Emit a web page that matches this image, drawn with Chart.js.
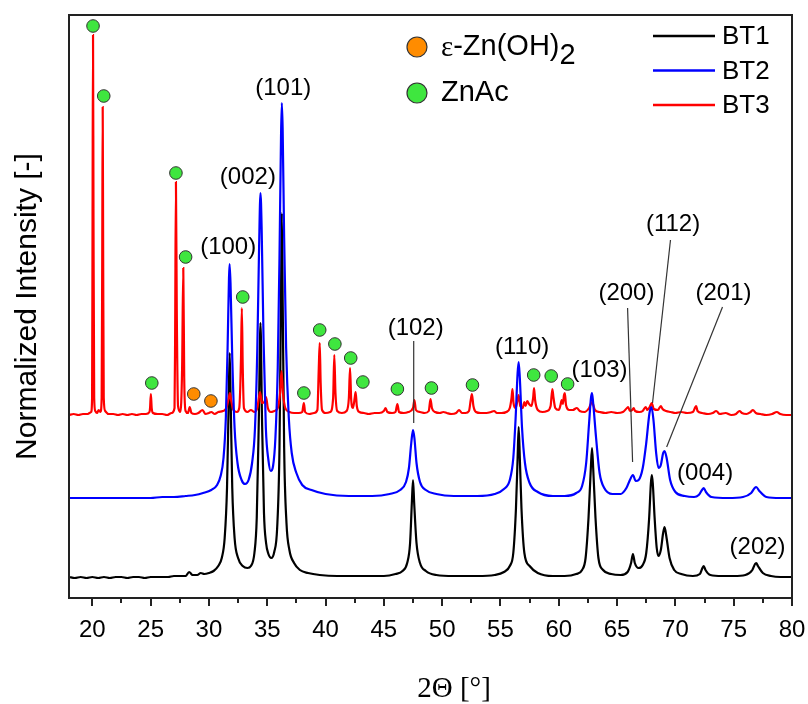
<!DOCTYPE html>
<html>
<head>
<meta charset="utf-8">
<script src="https://cdn.jsdelivr.net/npm/chart.js@4.4.1/dist/chart.umd.min.js"></script>
<style>
  html, body { margin: 0; padding: 0; background: #ffffff; }
  #wrap { width: 808px; height: 704px; }
</style>
</head>
<body>
<div id="wrap"><canvas id="xrd" width="808" height="704"></canvas></div>
<script>
// XRD patterns, 2θ [°] vs. normalized intensity (stacked, arbitrary units)
const bt1 = [
  [18.0,21],[18.5,20],[19.0,21],[19.5,20],[20.0,21],[20.5,20],[21.0,21],[21.5,20],[22.0,21],[22.5,21],
  [23.0,20],[23.5,21],[24.0,21],[24.5,20],[25.0,21],[25.5,21],[26.0,21],[26.5,21],[27.0,22],[27.5,22],
  [28.0,22],[28.3,26],[28.6,23],[29.0,23],[29.3,25],[29.6,24],[30.0,25],[30.4,27],[30.8,32],[31.1,40],
  [31.35,60],[31.55,110],[31.7,200],[31.78,245],[31.86,200],[32.0,110],[32.2,60],[32.5,40],[32.9,32],[33.3,30],
  [33.6,32],[33.9,45],[34.1,80],[34.28,180],[34.42,275],[34.55,180],[34.72,85],[34.9,55],[35.1,44],[35.35,40],
  [35.6,46],[35.85,70],[36.05,150],[36.17,290],[36.25,385],[36.33,290],[36.45,150],[36.65,75],[36.9,48],[37.3,35],
  [37.8,28],[38.5,25],[39.5,23],[41.0,22],[42.5,22],[44.0,22],[45.0,22],[46.0,24],[46.6,27],[47.0,35],
  [47.25,55],[47.4,95],[47.5,118],[47.6,95],[47.8,55],[48.1,35],[48.6,27],[49.5,23],[51.0,22],[53.0,22],
  [54.5,23],[55.3,26],[55.8,32],[56.1,45],[56.33,90],[56.47,140],[56.56,171],[56.66,140],[56.8,90],[57.05,45],
  [57.5,32],[58.2,25],[59.5,22],[60.5,22],[61.5,24],[62.0,28],[62.3,40],[62.55,80],[62.75,130],[62.85,150],
  [62.95,130],[63.15,80],[63.4,40],[63.8,28],[64.5,24],[65.3,23],[65.9,26],[66.2,35],[66.36,44],[66.52,35],
  [66.85,30],[67.2,33],[67.5,45],[67.75,80],[67.9,115],[67.98,123],[68.06,115],[68.22,80],[68.4,50],[68.55,42],
  [68.75,48],[68.95,65],[69.07,71],[69.22,62],[69.5,40],[69.9,28],[70.5,24],[71.5,22],[72.1,24],[72.32,30],
  [72.43,32],[72.58,28],[73.0,23],[74.0,22],[75.0,22],[76.0,23],[76.6,28],[76.83,34],[76.93,35],[77.08,32],
  [77.5,25],[78.2,22],[79.0,21],[80.0,21]
];
const bt2 = [
  [18.0,100],[19.0,100],[20.0,100],[21.0,100],[22.0,100],[23.0,100],[24.0,100],[25.0,100],[26.0,101],[27.0,101],
  [28.0,102],[28.8,103],[29.5,105],[30.2,108],[30.7,113],[31.0,122],[31.25,140],[31.45,180],[31.6,250],[31.72,320],
  [31.77,334],[31.85,315],[32.0,240],[32.2,170],[32.45,135],[32.8,118],[33.1,114],[33.4,118],[33.7,135],[33.95,170],
  [34.15,250],[34.3,350],[34.42,405],[34.52,370],[34.68,260],[34.88,170],[35.1,138],[35.3,127],[35.5,132],[35.7,160],
  [35.9,230],[36.05,340],[36.18,460],[36.25,495],[36.32,470],[36.45,360],[36.62,250],[36.85,180],[37.1,145],[37.5,125],
  [38.0,113],[38.8,108],[40.0,104],[42.0,102],[44.0,102],[45.5,104],[46.4,108],[46.9,116],[47.15,130],[47.35,155],
  [47.5,168],[47.62,160],[47.8,135],[48.1,116],[48.6,108],[49.5,104],[51.0,102],[53.0,102],[54.5,104],[55.3,109],
  [55.8,118],[56.1,140],[56.3,180],[56.47,225],[56.56,236],[56.66,220],[56.85,170],[57.1,135],[57.5,115],[58.2,106],
  [59.5,102],[60.5,102],[61.5,105],[62.0,112],[62.35,135],[62.6,175],[62.76,200],[62.85,205],[62.95,195],[63.2,160],
  [63.5,125],[63.9,110],[64.6,104],[65.3,104],[65.8,110],[66.1,118],[66.36,123],[66.6,117],[66.85,118],[67.2,130],
  [67.5,155],[67.78,185],[67.95,191],[68.12,178],[68.35,145],[68.55,130],[68.75,133],[68.95,145],[69.07,147],[69.25,140],
  [69.55,118],[70.0,106],[70.8,102],[71.6,101],[72.0,103],[72.28,108],[72.43,110],[72.62,106],[73.1,101],[74.5,100],
  [75.8,101],[76.5,105],[76.8,110],[76.93,111],[77.2,107],[77.8,101],[79.0,100],[80.0,100]
];
const bt3 = [
  [18.0,183],[18.4,184],[18.8,183],[19.2,184],[19.6,184],[19.9,186],[19.98,200],[20.02,380],[20.06,563],[20.1,380],
  [20.16,200],[20.25,187],[20.4,185],[20.55,188],[20.7,186],[20.8,200],[20.85,340],[20.89,491],[20.93,340],[20.98,200],
  [21.1,187],[21.4,184],[21.8,184],[22.2,183],[22.6,184],[23.0,183],[23.4,184],[23.8,183],[24.2,184],[24.6,184],
  [24.9,186],[24.95,190],[25.02,204],[25.09,190],[25.2,185],[25.6,184],[26.0,184],[26.4,183],[26.8,185],[27.05,190],
  [27.1,260],[27.17,416],[27.24,290],[27.35,192],[27.55,186],[27.7,230],[27.8,330],[27.88,220],[28.0,187],[28.2,185],
  [28.35,191],[28.5,185],[28.8,184],[29.1,185],[29.45,188],[29.7,184],[30.0,185],[30.2,186],[30.5,184],[30.8,186],
  [31.2,187],[31.5,190],[31.7,200],[31.8,205],[31.9,198],[32.1,188],[32.4,186],[32.6,190],[32.75,240],[32.82,290],
  [32.9,230],[33.0,190],[33.3,186],[33.6,188],[33.9,186],[34.15,190],[34.38,206],[34.55,195],[34.75,196],[34.9,201],
  [35.05,190],[35.3,186],[35.6,187],[35.9,190],[36.1,205],[36.22,227],[36.35,205],[36.55,190],[36.9,186],[37.3,185],
  [37.7,185],[38.0,186],[38.14,195],[38.25,186],[38.6,184],[39.0,185],[39.3,188],[39.42,230],[39.5,255],[39.58,215],
  [39.7,188],[40.0,185],[40.4,186],[40.65,200],[40.75,243],[40.85,205],[41.0,187],[41.4,185],[41.8,187],[42.0,200],
  [42.1,230],[42.2,198],[42.35,190],[42.5,200],[42.58,206],[42.68,192],[42.9,186],[43.3,185],[43.7,184],[44.2,185],
  [44.6,185],[45.0,187],[45.15,190],[45.3,186],[45.7,185],[46.0,186],[46.16,194],[46.3,186],[46.7,185],[47.1,186],
  [47.5,190],[47.62,198],[47.75,188],[48.1,186],[48.5,185],[48.85,187],[49.0,199],[49.12,190],[49.4,186],[49.8,185],
  [50.1,186],[50.4,185],[50.8,184],[51.2,185],[51.45,188],[51.7,185],[52.0,185],[52.3,187],[52.45,198],[52.55,204],
  [52.68,192],[52.9,186],[53.3,185],[53.8,185],[54.2,186],[54.45,187],[54.7,185],[55.1,185],[55.5,186],[55.8,190],
  [55.95,200],[56.03,209],[56.12,195],[56.3,190],[56.45,197],[56.56,203],[56.7,192],[56.9,190],[57.05,196],[57.15,192],
  [57.3,197],[57.45,194],[57.65,192],[57.8,200],[57.88,210],[57.97,198],[58.2,188],[58.6,186],[59.0,187],[59.3,192],
  [59.45,209],[59.55,200],[59.7,190],[60.0,188],[60.15,193],[60.25,198],[60.35,194],[60.45,203],[60.52,205],[60.62,193],
  [60.9,188],[61.2,188],[61.55,190],[61.8,187],[62.2,186],[62.6,190],[62.85,196],[63.1,188],[63.5,186],[64.0,185],
  [64.5,186],[65.0,185],[65.5,186],[65.85,190],[65.95,191],[66.1,187],[66.3,188],[66.42,190],[66.55,187],[66.9,186],
  [67.2,187],[67.45,191],[67.6,188],[67.8,191],[67.97,195],[68.15,189],[68.5,188],[68.75,192],[68.9,189],[69.2,187],
  [69.6,186],[70.0,185],[70.5,186],[71.0,185],[71.5,186],[71.78,192],[71.9,187],[72.3,185],[72.8,184],[73.2,185],
  [73.5,187],[73.8,184],[74.3,185],[74.8,183],[75.2,184],[75.5,187],[75.7,185],[76.1,184],[76.45,186],[76.65,188],
  [76.9,185],[77.3,184],[77.8,183],[78.3,184],[78.7,186],[79.0,184],[79.5,183],[80.0,183]
];

// Phase markers above the BT3 reflections
const znAcAngles = [20.06, 20.98, 25.1, 27.17, 28.0, 32.9, 38.14, 39.5, 40.8, 42.16, 43.2, 46.16, 49.08, 52.6, 57.85, 59.35, 60.76];
const znAcLevels = [572, 502, 215, 425, 341, 301, 205, 268, 254, 240, 216, 209, 210, 213, 223, 222, 214];
const znOHAngles = [28.7, 30.17];
const znOHLevels = [204, 197];

// Miller indices of the ZnO reflections
const hklText   = ['(100)', '(002)', '(101)', '(102)', '(110)', '(103)', '(200)', '(112)', '(201)', '(004)', '(202)'];
const hklAngle  = [31.65, 33.34, 36.37, 47.73, 56.86, 63.5, 65.8, 69.8, 74.13, 72.55, 77.05];
const hklLevel  = [351, 421, 510, 270, 251, 228, 305, 374, 305, 125, 51];
// leader lines: [from angle, from level, to angle, to level]
const hklLeaders = [
  [47.56, 257, 47.56, 175],
  [65.9, 290, 66.33, 136],
  [69.58, 358, 68.04, 195],
  [74.04, 291, 69.25, 151]
];

const seriesNames  = ['BT1', 'BT2', 'BT3'];
const seriesColors = ['#000000', '#0000ff', '#ff0000'];
const xTickValues  = [20, 25, 30, 35, 40, 45, 50, 55, 60, 65, 70, 75, 80];

const SANS = '"Liberation Sans", Arial, Helvetica, sans-serif';
const SERIF = '"Liberation Serif", "Times New Roman", serif';
Chart.defaults.font.family = SANS;
Chart.defaults.color = '#000';

const toPoints = arr => arr.map(p => ({ x: p[0], y: p[1] }));
const zip = (xs, ys) => xs.map((x, i) => ({ x: x, y: ys[i] }));

const GREEN = '#3fe63f';
const ORANGE = '#ff8c00';

const decorations = {
  id: 'decorations',
  afterDraw(chart) {
    const { ctx, chartArea: a, scales } = chart;
    const xs = scales.x, ys = scales.y;
    ctx.save();

    // frame
    ctx.strokeStyle = '#222';
    ctx.lineWidth = 2;
    ctx.strokeRect(a.left, a.top, a.right - a.left, a.bottom - a.top);

    // x ticks (major every 5, minor every 2.5)
    ctx.lineWidth = 2;
    for (let v = 20; v <= 80.01; v += 2.5) {
      const px = Math.round(xs.getPixelForValue(v));
      const major = Math.abs(v % 5) < 1e-6;
      ctx.beginPath();
      ctx.moveTo(px, a.bottom);
      ctx.lineTo(px, a.bottom + (major ? 8 : 5));
      ctx.stroke();
    }

    // hkl labels
    ctx.fillStyle = '#000';
    ctx.font = '24px ' + SANS;
    ctx.textAlign = 'center';
    ctx.textBaseline = 'middle';
    hklText.forEach((t, i) => {
      ctx.fillText(t, xs.getPixelForValue(hklAngle[i]), ys.getPixelForValue(hklLevel[i]));
    });
    ctx.strokeStyle = '#333';
    ctx.lineWidth = 1.2;
    hklLeaders.forEach(l => {
      ctx.beginPath();
      ctx.moveTo(xs.getPixelForValue(l[0]), ys.getPixelForValue(l[1]));
      ctx.lineTo(xs.getPixelForValue(l[2]), ys.getPixelForValue(l[3]));
      ctx.stroke();
    });

    // series legend
    ctx.font = '26px ' + SANS;
    ctx.textAlign = 'left';
    const legX = a.right - 139, legY = a.top + 21, legStep = 34.5;
    seriesNames.forEach((n, i) => {
      const y = legY + i * legStep;
      ctx.strokeStyle = seriesColors[i];
      ctx.lineWidth = 2.5;
      ctx.beginPath();
      ctx.moveTo(legX, y);
      ctx.lineTo(legX + 62, y);
      ctx.stroke();
      ctx.fillStyle = '#000';
      ctx.fillText(n, legX + 69, y + 1);
    });

    // phase legend
    const pX = 417, pY = [47, 93];
    [ORANGE, GREEN].forEach((c, i) => {
      ctx.beginPath();
      ctx.arc(pX, pY[i], 10, 0, Math.PI * 2);
      ctx.fillStyle = c;
      ctx.fill();
      ctx.strokeStyle = '#333';
      ctx.lineWidth = 1.2;
      ctx.stroke();
    });
    ctx.fillStyle = '#000';
    ctx.textBaseline = 'middle';
    ctx.font = '29px ' + SERIF;
    let tx = 441;
    ctx.fillText('ε', tx, pY[0] + 1);
    tx += ctx.measureText('ε').width;
    ctx.font = '29px ' + SANS;
    ctx.fillText('-Zn(OH)', tx, pY[0]);
    tx += ctx.measureText('-Zn(OH)').width;
    ctx.fillText('2', tx, pY[0] + 9);
    ctx.fillText('ZnAc', 441, pY[1]);

    // x axis title
    ctx.font = '29px ' + SERIF;
    ctx.textAlign = 'center';
    ctx.fillText('2Θ [°]', 454, 689);

    ctx.restore();
  }
};

new Chart(document.getElementById('xrd'), {
  type: 'line',
  data: {
    datasets: [
      { label: seriesNames[0], data: toPoints(bt1), borderColor: seriesColors[0], borderWidth: 2.2, pointRadius: 0, cubicInterpolationMode: 'monotone', fill: false, order: 3 },
      { label: seriesNames[1], data: toPoints(bt2), borderColor: seriesColors[1], borderWidth: 2.2, pointRadius: 0, cubicInterpolationMode: 'monotone', fill: false, order: 1 },
      { label: seriesNames[2], data: toPoints(bt3), borderColor: seriesColors[2], borderWidth: 2.2, pointRadius: 0, cubicInterpolationMode: 'monotone', fill: false, order: 2 },
      { label: 'ZnAc', data: zip(znAcAngles, znAcLevels), showLine: false, pointRadius: 6.3, pointBackgroundColor: GREEN, pointBorderColor: '#333', pointBorderWidth: 1, order: 0 },
      { label: 'ε-Zn(OH)2', data: zip(znOHAngles, znOHLevels), showLine: false, pointRadius: 6.3, pointBackgroundColor: ORANGE, pointBorderColor: '#333', pointBorderWidth: 1, order: 0 }
    ]
  },
  options: {
    responsive: false,
    animation: false,
    events: [],
    layout: { padding: { top: 15, right: 16, left: 0, bottom: 0 } },
    plugins: { legend: { display: false }, tooltip: { enabled: false } },
    scales: {
      x: {
        type: 'linear',
        min: 18, max: 80,
        grid: { display: false },
        border: { display: false },
        afterBuildTicks: s => { s.ticks = xTickValues.map(v => ({ value: v })); },
        ticks: { autoSkip: false, maxRotation: 0, padding: 10, font: { size: 24 }, color: '#000' },
        afterFit: s => { s.height = 106; s.paddingLeft = 0; s.paddingRight = 0; }
      },
      y: {
        min: 0, max: 583,
        grid: { display: false },
        border: { display: false },
        ticks: { display: false },
        title: { display: true, text: 'Normalized Intensity [-]', font: { size: 30 }, color: '#000', padding: { top: 10, bottom: 0 } },
        afterFit: s => { s.width = 69; }
      }
    }
  },
  plugins: [decorations]
});
</script>
</body>
</html>
